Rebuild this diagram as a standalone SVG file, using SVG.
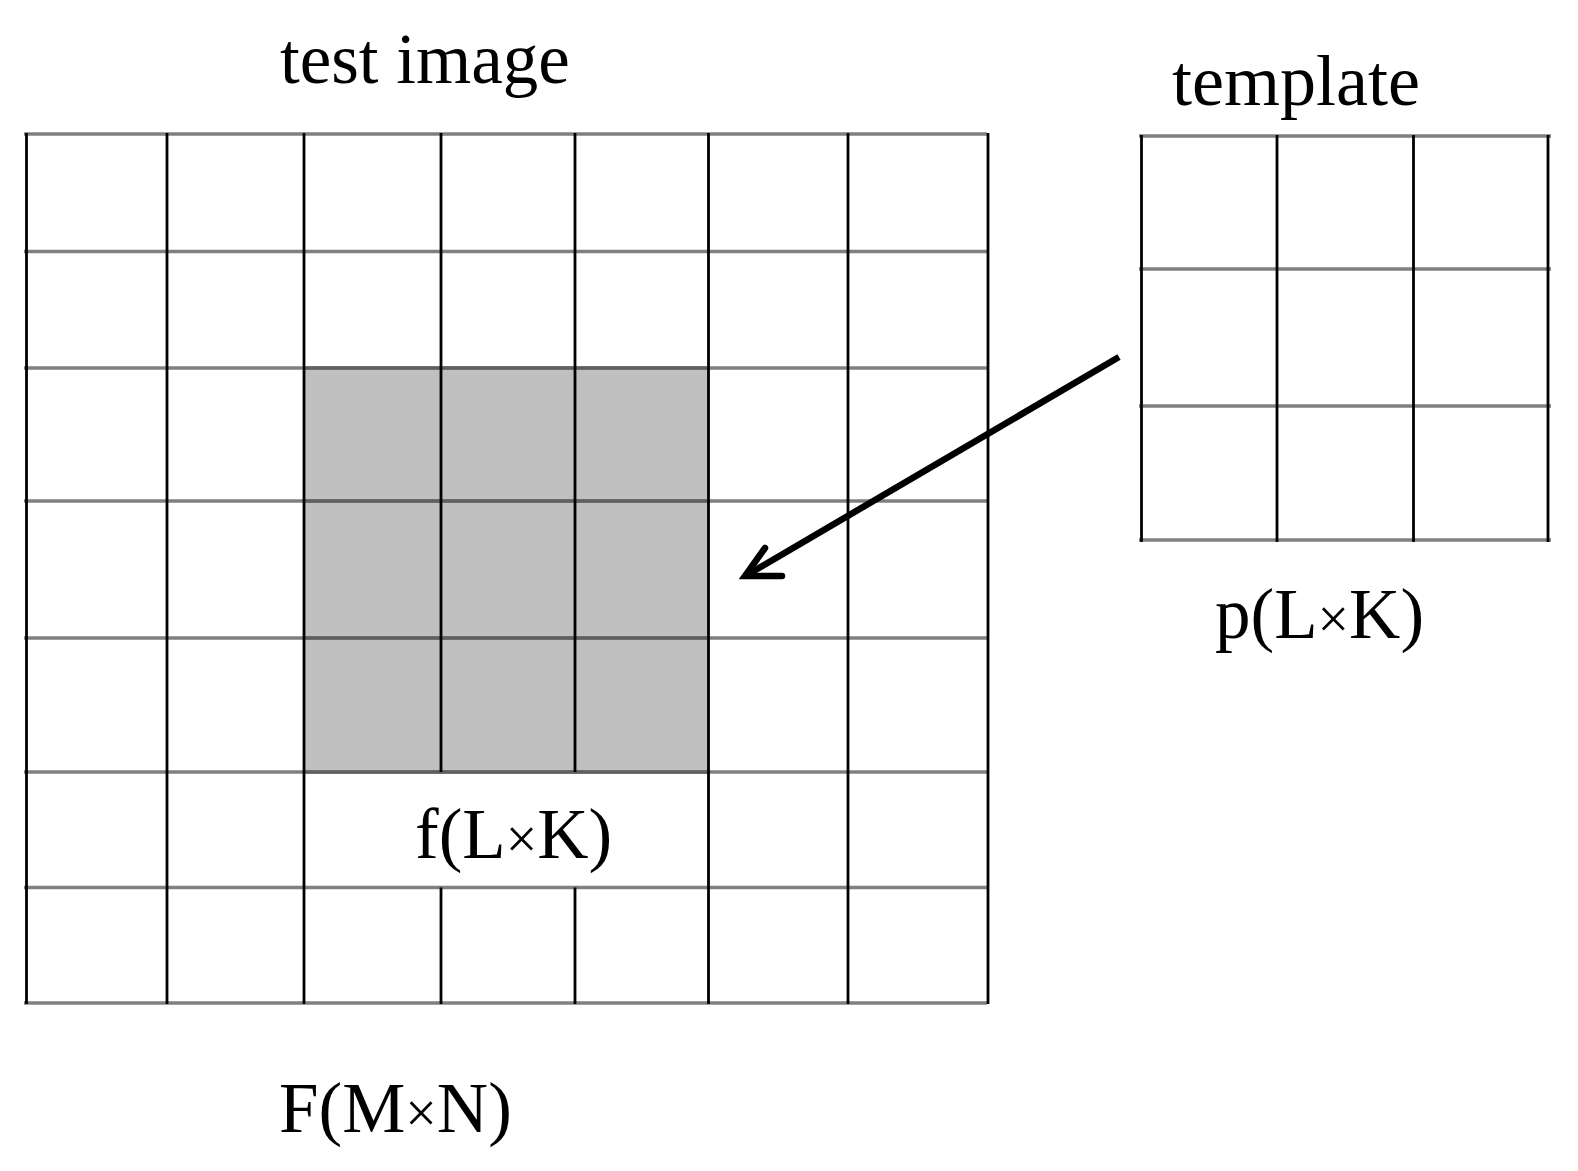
<svg xmlns="http://www.w3.org/2000/svg" width="1578" height="1171" viewBox="0 0 1578 1171">
<style>
.h{stroke:#808080;stroke-width:3.5;fill:none}
.hd{stroke:#606060;stroke-width:3.5;fill:none}
.v{stroke:#000;stroke-width:2.8;fill:none}
.t{font-family:"Liberation Serif","Times New Roman",serif;font-size:71px;fill:#000}
.x{font-size:56px}
</style>
<rect width="1578" height="1171" fill="#fff"/>
<g id="test-image">
<rect x="304" y="368" width="404.5" height="404" fill="#c0c0c0"/>
<g class="h">
<line x1="24" y1="134" x2="987" y2="134"/>
<line x1="24" y1="251.5" x2="987" y2="251.5"/>
<line x1="24" y1="368" x2="987" y2="368"/>
<line x1="24" y1="501" x2="987" y2="501"/>
<line x1="24" y1="638" x2="987" y2="638"/>
<line x1="24" y1="772" x2="987" y2="772"/>
<line x1="24" y1="887.5" x2="987" y2="887.5"/>
<line x1="24" y1="1003" x2="987" y2="1003"/>
</g>
<g class="hd">
<line x1="304" y1="368" x2="708.5" y2="368"/>
<line x1="304" y1="501" x2="708.5" y2="501"/>
<line x1="304" y1="638" x2="708.5" y2="638"/>
<line x1="304" y1="772" x2="708.5" y2="772"/>
</g>
<g class="v">
<line x1="26.5" y1="133" x2="26.5" y2="1004"/>
<line x1="167" y1="133" x2="167" y2="1004"/>
<line x1="304" y1="133" x2="304" y2="1004"/>
<line x1="441" y1="133" x2="441" y2="772"/>
<line x1="441" y1="887.5" x2="441" y2="1004"/>
<line x1="575" y1="133" x2="575" y2="772"/>
<line x1="575" y1="887.5" x2="575" y2="1004"/>
<line x1="708.5" y1="133" x2="708.5" y2="1004"/>
<line x1="848" y1="133" x2="848" y2="1004"/>
<line x1="988" y1="133" x2="988" y2="1004"/>
</g>
<text class="t" x="280" y="83">test image</text>
<text class="t" x="415" y="858">f(L<tspan class="x">×</tspan>K)</text>
<text class="t" x="279" y="1132">F(M<tspan class="x">×</tspan>N)</text>
</g>
<g id="template">
<g class="h">
<line x1="1139" y1="136" x2="1551" y2="136"/>
<line x1="1139" y1="269" x2="1551" y2="269"/>
<line x1="1139" y1="406" x2="1551" y2="406"/>
<line x1="1139" y1="540" x2="1551" y2="540"/>
</g>
<g class="v">
<line x1="1141.5" y1="135" x2="1141.5" y2="542"/>
<line x1="1277" y1="135" x2="1277" y2="542"/>
<line x1="1413.5" y1="135" x2="1413.5" y2="542"/>
<line x1="1548" y1="135" x2="1548" y2="542"/>
</g>
<text class="t" x="1172" y="105" style="font-size:72px">template</text>
<text class="t" x="1215" y="638">p(L<tspan class="x">×</tspan>K)</text>
</g>
<g id="connectors">
<line x1="1119" y1="357" x2="747" y2="575" stroke="#000" stroke-width="6.5"/>
<path d="M765,548 L745,576 L782,576" fill="none" stroke="#000" stroke-width="6.5" stroke-linejoin="miter" stroke-linecap="round"/>
</g>
</svg>
